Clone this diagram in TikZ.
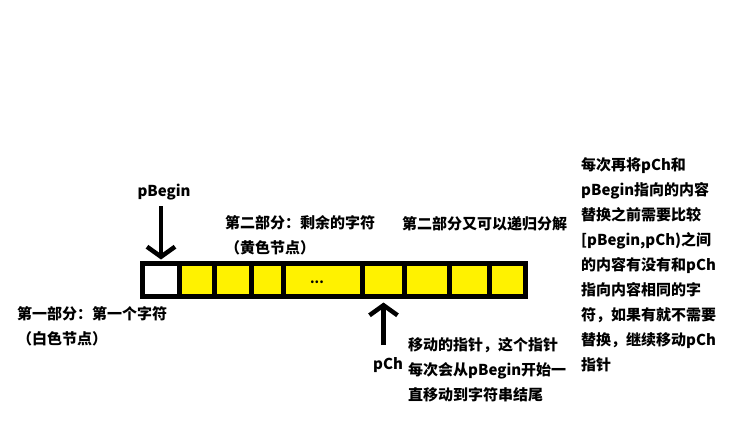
\documentclass[tikz,border=0pt]{standalone}
\usepackage{fontspec}
\setmainfont{Noto Sans CJK SC}
\usetikzlibrary{arrows.meta}
\definecolor{cellyellow}{RGB}{255,242,0}
\tikzset{
  cell/.style={draw=black, line width=5pt, fill=cellyellow, minimum height=33pt, inner sep=0pt},
  ptr/.style={line width=4.5pt, -{Straight Barb[length=10pt, width=28pt, line width=4.5pt]}},
  txt/.style={anchor=north west, align=left, inner sep=0pt, font=\fontsize{15}{25}\selectfont\bfseries},
  lbl/.style={inner sep=0pt, font=\fontsize{15}{18}\selectfont\bfseries}
}
\begin{document}
\begin{tikzpicture}[x=1pt, y=-1pt]
\useasboundingbox[fill=white] (0,0) rectangle (754,431);
% cells
\node[cell, fill=white, minimum width=37pt] (c1) at (161,280) {};
\node[cell, minimum width=35pt]   (c2) at (197,280) {};
\node[cell, minimum width=37pt]   (c3) at (233,280) {};
\node[cell, minimum width=31.5pt] (c4) at (267.25,280) {};
\node[cell, minimum width=79.5pt] (c5) at (322.75,280) {};
\node[cell, minimum width=42pt]   (c6) at (383.5,280) {};
\node[cell, minimum width=45pt]   (c7) at (427,280) {};
\node[cell, minimum width=39.5pt] (c8) at (469.25,280) {};
\node[cell, minimum width=36pt]   (c9) at (507,280) {};
\node[inner sep=0pt, font=\fontsize{13}{13}\selectfont\bfseries] (dots) at (317,282) {...};
% pointers
\node[lbl] (pbegin) at (164,192) {pBegin};
\coordinate (pbtail) at (161,206);
\draw[ptr, shorten >=1.5pt] (pbtail) -- (c1.north);
\node[lbl] (pch) at (388,365) {pCh};
\coordinate (pchtail) at (383.5,345);
\draw[ptr, shorten >=3.5pt] (pchtail) -- (c6.south);
% texts
\node[txt] (part1) at (17,306) {第一部分：第一个字符\\（白色节点）};
\node[txt] (part2) at (225,215) {第二部分：剩余的字符\\（黄色节点）};
\node[txt] (recur) at (402,216) {第二部分又可以递归分解};
\node[txt] (move) at (408,337) {移动的指针，这个指针\\每次会从pBegin开始一\\直移动到字符串结尾};
\node[txt] (swap) at (581,157) {每次再将pCh和\\pBegin指向的内容\\替换之前需要比较\\{}[pBegin,pCh)之间\\的内容有没有和pCh\\指向内容相同的字\\符，如果有就不需要\\替换，继续移动pCh\\指针};
\end{tikzpicture}
\end{document}
